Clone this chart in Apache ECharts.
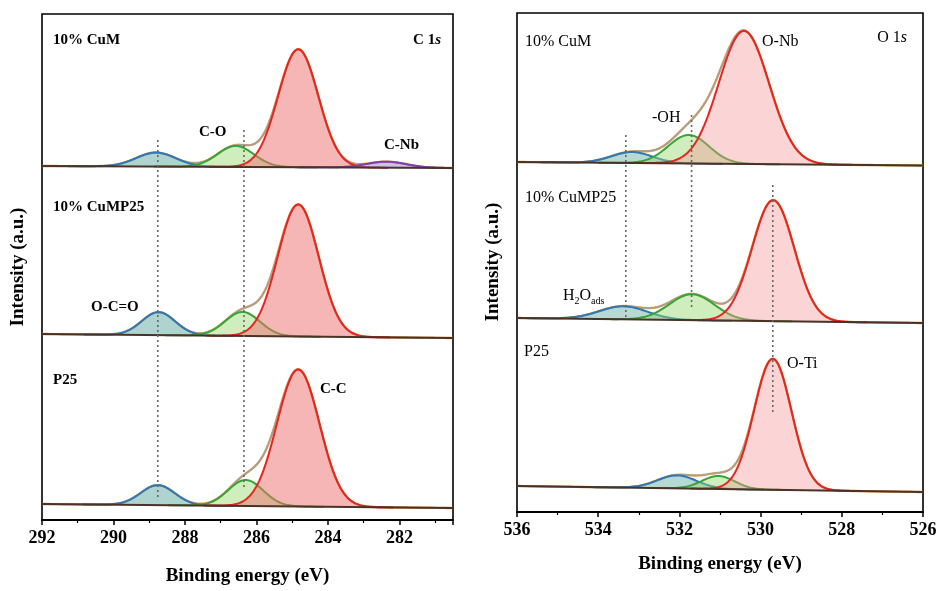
<!DOCTYPE html>
<html>
<head>
<meta charset="utf-8">
<script src="https://cdn.jsdelivr.net/npm/echarts@6/dist/echarts.min.js"></script>
<style>html,body{margin:0;background:#fff;}</style>
</head>
<body>
<div id="main" style="width:944px;height:591px;"></div>
<script>
// fitted peaks, one entry per sample (top, middle, bottom)
// each peak: [centre eV, height a.u. above background, FWHM eV]
var samples = ['10% CuM', '10% CuMP25', 'P25'];

// C 1s
var cBgHigh = [354, 186, 16];      // background at 292 eV
var cBgLow = [352, 182, 12];       // background at 280.5 eV
var cCC = [[284.83, 118, 1.32], [284.83, 132, 1.35], [284.83, 137, 1.4]];
var cCO = [[286.58, 21, 1.2], [286.39, 24, 1.15], [286.30, 26, 1.15]];
var cOCO = [[288.81, 14, 1.3], [288.74, 23, 1.1], [288.76, 20, 1.12]];
var cCNb = [[282.36, 6, 1.3], null, null];
var cDrops = [[288.76, 380, 22], [286.35, 390, 32]];

// O 1s
var oBgHigh = [350, 194, 26];      // background at 536 eV
var oBgLow = [346.5, 189, 20];     // background at 526 eV
var oMetal = [[530.41, 133, 1.46], [529.69, 121, 1.22], [529.70, 131, 1.08]];
var oOH = [[531.77, 28.5, 1.18], [531.69, 26, 1.3], [531.04, 13, 0.95]];
var oH2O = [[533.17, 11, 1.18], [533.38, 13, 1.4], [532.06, 13, 1.13]];
var oDrops = [[533.32, 377, 195], [531.70, 397, 204], [529.70, 327, 97]];

var cTicks = ['292', '290', '288', '286', '284', '282'];
var oTicks = ['536', '534', '532', '530', '528', '526'];

var FONT = 'Liberation Serif';
var colBlue = '#2f77b6', colGreen = '#36a436', colRed = '#e3261f', colPurple = '#7d3fb0';

function gauss(p, x) {
    var s = p[2] / 2.3548;
    return p[1] * Math.exp(-(x - p[0]) * (x - p[0]) / (2 * s * s));
}

function bgAt(hi, lo, eHi, eLo, x) {
    return lo + (hi - lo) * (x - eLo) / (eHi - eLo);
}

var series = [];

// filled component between its curve and the background
function band(axis, upper, lower, fill, stroke) {
    series.push({
        type: 'custom', coordinateSystem: 'cartesian2d', xAxisIndex: axis, yAxisIndex: axis,
        data: [upper[0]], silent: true, z: 4, clip: true,
        renderItem: function (params, api) {
            var top = upper.map(function (p) { return api.coord(p); });
            var bot = lower.slice().reverse().map(function (p) { return api.coord(p); });
            return {type: 'group', children: [
                {type: 'polygon', shape: {points: top.concat(bot)}, style: {fill: fill}},
                {type: 'polyline', shape: {points: top}, style: {stroke: stroke, lineWidth: 2, fill: null}}
            ]};
        }
    });
}

function addSample(axis, eHi, eLo, bh, bl, peaks, fills, lines) {
    var step = 0.03;
    peaks.forEach(function (p, k) {
        if (!p) return;
        var a = Math.min(eHi, p[0] + 1.9 * p[2]), b = Math.max(eLo, p[0] - 1.9 * p[2]);
        var base = [], comp = [];
        for (var x = b; x <= a + 1e-9; x += step) {
            var y0 = bgAt(bh, bl, eHi, eLo, x);
            base.push([x, y0]);
            comp.push([x, y0 + gauss(p, x)]);
        }
        band(axis, comp, base, fills[k], lines[k]);
    });
    // envelope
    var env = [], bg = [[eLo, bl], [eHi, bh]];
    for (var x = eLo; x <= eHi + 1e-9; x += step) {
        var y = bgAt(bh, bl, eHi, eLo, x);
        peaks.forEach(function (p) { if (p) y += gauss(p, x); });
        env.push([x, y]);
    }
    series.push({type: 'line', xAxisIndex: axis, yAxisIndex: axis, data: env, symbol: 'none', silent: true,
        lineStyle: {color: '#f0a040', width: 2.4}, z: 3});
    series.push({type: 'line', xAxisIndex: axis, yAxisIndex: axis, data: env, symbol: 'none', silent: true,
        lineStyle: {color: '#a0a0a0', width: 1.6}, z: 3});
    series.push({type: 'line', xAxisIndex: axis, yAxisIndex: axis, data: bg, symbol: 'none', silent: true,
        lineStyle: {color: '#4a3226', width: 1.8}, z: 5});
}

var cFills = ['rgba(95,170,160,0.5)', 'rgba(150,215,110,0.45)', 'rgba(240,110,110,0.5)', 'rgba(160,130,205,0.5)'];
var oFills = ['rgba(95,170,160,0.45)', 'rgba(150,215,110,0.45)', 'rgba(245,150,150,0.4)'];

for (var i = 0; i < 3; i++) {
    addSample(0, 292, 280.5, cBgHigh[i], cBgLow[i], [cOCO[i], cCO[i], cCC[i], cCNb[i]],
        cFills, [colBlue, colGreen, colRed, colPurple]);
    addSample(1, 536, 526, oBgHigh[i], oBgLow[i], [oH2O[i], oOH[i], oMetal[i]],
        oFills, [colBlue, colGreen, colRed]);
}

function drops(axis, list) {
    list.forEach(function (d) {
        series.push({type: 'line', xAxisIndex: axis, yAxisIndex: axis, data: [[d[0], d[1]], [d[0], d[2]]],
            symbol: 'none', silent: true, z: 6, lineStyle: {color: '#666', width: 1.6, type: [2, 3]}});
    });
}
drops(0, cDrops);
drops(1, oDrops);

function xAx(grid, min, max, ticks, gap, extra) {
    return Object.assign({
        type: 'value', gridIndex: grid, min: min, max: max, inverse: true,
        name: 'Binding energy (eV)', nameLocation: 'middle', nameGap: gap,
        nameTextStyle: {fontFamily: FONT, fontWeight: 'bold', fontSize: 19, color: '#000'},
        axisLine: {onZero: false, lineStyle: {color: '#000', width: 2}},
        axisTick: {length: 5, lineStyle: {width: 1.5, color: '#000'}},
        minorTick: {show: true, splitNumber: 2, length: 3, lineStyle: {width: 1.2, color: '#000'}},
        splitLine: {show: false},
        axisLabel: {fontFamily: FONT, fontWeight: 'bold', fontSize: 18, color: '#000', margin: 9,
            formatter: function (v) { var s = String(v); return ticks.indexOf(s) >= 0 ? s : ''; }}
    }, extra || {});
}

function yAx(grid, max) {
    return {type: 'value', gridIndex: grid, min: 0, max: max, show: true,
        axisLine: {show: false}, axisTick: {show: false}, axisLabel: {show: false}, splitLine: {show: false}};
}

function label(x, y, text, size, weight, extra) {
    return Object.assign({type: 'text', x: x, y: y, z: 100,
        style: {text: text, fill: '#000', font: weight + ' ' + size + 'px "' + FONT + '"', verticalAlign: 'middle'}}, extra || {});
}

function yName(x, y) {
    return {type: 'text', x: x, y: y, z: 100, rotation: Math.PI / 2,
        style: {text: 'Intensity (a.u.)', fill: '#000', font: 'bold 19px "' + FONT + '"', align: 'center', verticalAlign: 'middle'}};
}

var option = {
    animation: false,
    backgroundColor: '#fff',
    grid: [
        {left: 42, top: 14, width: 411, height: 506, show: true, borderColor: '#000', borderWidth: 1.6},
        {left: 517, top: 13, width: 406, height: 499, show: true, borderColor: '#000', borderWidth: 1.6}
    ],
    xAxis: [
        xAx(0, 280.5, 292, cTicks, 47, {splitNumber: 6}),
        xAx(1, 526, 536, oTicks, 43, {interval: 2})
    ],
    yAxis: [yAx(0, 506), yAx(1, 499)],
    series: series,
    graphic: [
        yName(18, 267),
        yName(493, 262),
        // C 1s annotations
        label(53, 40, samples[0], 15, 'bold'),
        label(53, 207, samples[1], 15, 'bold'),
        label(53, 380, samples[2], 15, 'bold'),
        {type: 'text', x: 441, y: 40, z: 100, style: {text: '{a|C 1}{i|s}', align: 'right', verticalAlign: 'middle',
            rich: {a: {fontFamily: FONT, fontWeight: 'bold', fontSize: 15, fill: '#000'},
                   i: {fontFamily: FONT, fontWeight: 'bold', fontStyle: 'italic', fontSize: 15, fill: '#000'}}}},
        label(199, 132, 'C-O', 15, 'bold'),
        label(384, 145, 'C-Nb', 15, 'bold'),
        label(91, 307, 'O-C=O', 15, 'bold'),
        label(320, 389, 'C-C', 15, 'bold'),
        // O 1s annotations
        label(525, 42, samples[0], 16, 'normal'),
        label(525, 198, samples[1], 16, 'normal'),
        label(524, 352, samples[2], 16, 'normal'),
        {type: 'text', x: 907, y: 38, z: 100, style: {text: '{a|O 1}{i|s}', align: 'right', verticalAlign: 'middle',
            rich: {a: {fontFamily: FONT, fontSize: 16, fill: '#000'},
                   i: {fontFamily: FONT, fontStyle: 'italic', fontSize: 16, fill: '#000'}}}},
        label(762, 42, 'O-Nb', 16, 'normal'),
        label(652, 118, '-OH', 16, 'normal'),
        label(787, 364, 'O-Ti', 16, 'normal'),
        {type: 'text', x: 563, y: 297, z: 100, style: {text: '{a|H}{s|2}{a|O}{s|ads}', verticalAlign: 'middle',
            rich: {a: {fontFamily: FONT, fontSize: 16, fill: '#000', lineHeight: 18, verticalAlign: 'top'},
                   s: {fontFamily: FONT, fontSize: 10, fill: '#000', lineHeight: 18, verticalAlign: 'bottom', padding: [8, 0, 0, 0]}}}}
    ]
};

var myChart = echarts.init(document.getElementById('main'));
myChart.setOption(option);
</script>
</body>
</html>
